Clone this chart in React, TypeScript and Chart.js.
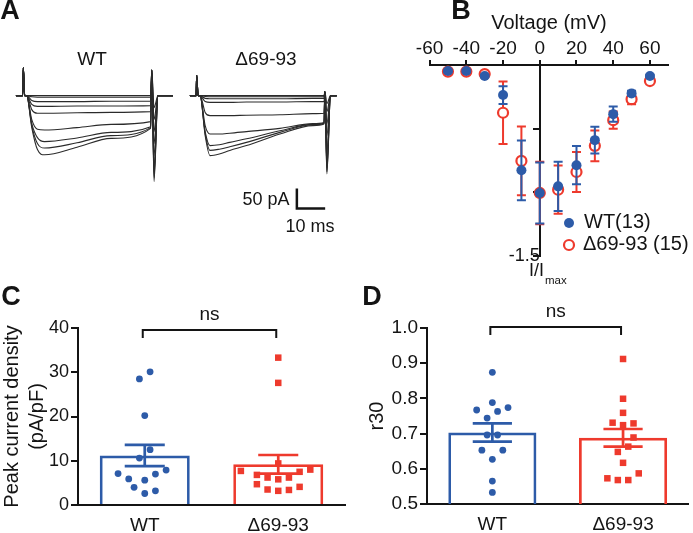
import React, { useEffect, useRef } from 'react';
import { Chart, registerables } from 'chart.js';

Chart.register(...registerables);

const FONT = "'Liberation Sans', Arial, Helvetica, sans-serif";
const INK = '#141414';
const TRACE_INK = '#2b2b2b';
const BLUE = '#2D5BA8';
const RED = '#EE3A2D';

Chart.defaults.font.family = FONT;
Chart.defaults.color = INK;

// ---------------- Panel A: current traces (time in ms from pulse onset, current in pA) ----------------
const A_WT_TIME = [-2.6, -0.2, 0, 0.5, 1.2, 3, 5, 7.5, 19, 31, 45, 45.4, 46.2, 47.6, 52.9];
const A_WT_TRACES = [
  [0, 0, 70, 0, 0, -80, -135, -148, -129, -107, -82, 64, -215, 0, 0],
  [0, 0, 70, 0, 0, -75, -120, -131, -118, -100, -80, 64, -205, 0, 0],
  [0, 0, 70, 0, 0, -70, -105, -115, -106, -92, -78, 64, -195, 0, 0],
  [0, 0, 70, 0, 0, -60, -84, -86, -80, -72, -65, 64, -180, 0, 0],
  [0, 0, 70, 0, 0, -35, -44, -44, -43, -42, -40, 64, -150, 0, 0],
  [0, 0, 70, 0, 0, -22, -27, -27, -26, -26, -25, 64, -120, 0, 0],
  [0, 0, 70, 0, 0, -12, -15, -15, -15, -14, -14, 64, -90, 0, 0],
  [0, 0, 70, 0, 0, -3, -4, -4, -4, -4, -4, 64, -60, 0, 0],
  [0, 0, 70, 0, 0, 0, 0, 0, 0, 0, 0, 64, -30, 0, 0],
];
const A_DEL_TIME = [-2.4, -0.2, 0, 0.5, 1.2, 3, 4.7, 8, 11.7, 17.6, 29.4, 41, 45, 45.3, 46.0, 47.3, 49.5];
const A_DEL_TRACES = [
  [0, 0, 51, 0, 0, -100, -150, -146, -137, -125, -96, -75, -71, 10, -196, 0, 0],
  [0, 0, 51, 0, 0, -95, -137, -134, -128, -117, -92, -73, -70, 10, -190, 0, 0],
  [0, 0, 51, 0, 0, -90, -125, -123, -117, -108, -88, -72, -69, 10, -180, 0, 0],
  [0, 0, 51, 0, 0, -75, -96, -96, -94, -90, -82, -70, -67, 10, -170, 0, 0],
  [0, 0, 51, 0, 0, -42, -50, -50, -50, -49, -48, -45, -44, 10, -140, 0, 0],
  [0, 0, 51, 0, 0, -15, -17, -17, -17, -16, -16, -15, -15, 10, -100, 0, 0],
  [0, 0, 51, 0, 0, -7, -8, -8, -8, -8, -8, -7, -7, 10, -70, 0, 0],
  [0, 0, 51, 0, 0, -2, -3, -3, -3, -3, -3, -3, -3, 10, -40, 0, 0],
  [0, 0, 51, 0, 0, 0, 0, 0, 0, 0, 0, 0, 0, 10, -20, 0, 0],
];
const SCALEBAR_MS = 10;
const SCALEBAR_PA = 50;

// ---------------- Panel B: I-V relation ----------------
const IV_VOLTAGE = [-50, -40, -30, -20, -10, 0, 10, 20, 30, 40, 50, 60];
const IV_WT = [-0.047, -0.047, -0.087, -0.236, -0.827, -1.005, -0.953, -0.787, -0.59, -0.386, -0.223, -0.087];
const IV_WT_SEM = [0.01, 0.01, 0.01, 0.07, 0.235, 0.24, 0.193, 0.15, 0.105, 0.06, 0.02, 0.01];
const IV_DEL = [-0.052, -0.052, -0.071, -0.375, -0.753, -1.005, -0.979, -0.84, -0.635, -0.433, -0.268, -0.126];
const IV_DEL_SEM = [0.01, 0.01, 0.01, 0.245, 0.27, 0.245, 0.19, 0.157, 0.12, 0.068, 0.04, 0.015];
const IV_Y_LABELLED = [-1.5];
const IV_LEGEND = ['WT(13)', 'Δ69-93 (15)'];

// ---------------- Panels C and D ----------------
const GROUPS = ['WT', 'Δ69-93'];

const C_WT = [30.1, 28.5, 20.2, 12.5, 10.6, 7.1, 7.9, 5.9, 5.6, 7.0, 4.0, 2.6, 3.2];
const C_WT_DX = [0.04, -0.04, 0, 0.04, -0.04, -0.2, 0.16, -0.12, 0, 0.08, -0.08, 0, 0.08];
const C_DEL = [33.3, 27.6, 9.4, 7.7, 8.0, 7.5, 6.8, 6.2, 5.8, 6.2, 4.7, 3.5, 3.2, 3.4, 4.1];
const C_DEL_DX = [0, 0, 0, -0.28, 0.24, 0.16, -0.16, -0.08, 0, 0.08, -0.16, -0.08, 0, 0.08, 0.16];
const C_MEAN = [11.2, 9.2];
const C_SEM = [2.4, 2.1];

const D_WT = [0.874, 0.788, 0.767, 0.763, 0.774, 0.744, 0.696, 0.696, 0.653, 0.653, 0.627, 0.565, 0.533];
const D_WT_DX = [0, 0, -0.12, 0.04, 0.12, -0.04, -0.04, 0.04, -0.08, 0.08, 0, 0, 0];
const D_DEL = [0.912, 0.799, 0.759, 0.731, 0.724, 0.729, 0.689, 0.648, 0.663, 0.617, 0.573, 0.568, 0.568, 0.587];
const D_DEL_DX = [0, 0, 0, -0.08, 0, 0.08, 0.08, -0.04, 0.04, 0, -0.12, -0.04, 0.04, 0.12];
const D_MEAN = [0.703, 0.688];
const D_SEM = [0.026, 0.025];

// ---------------- Panel A component ----------------
function PanelA() {
  const ref = useRef<HTMLCanvasElement>(null);
  useEffect(() => {
    const X_MAX = 350 / 2.83;
    const Y_MIN = -361;
    const Y_MAX = 239;
    const WT_ONSET = 8.23;
    const DEL_ONSET = 69.5;
    const SB_X = 104.9;
    const SB_Y = -282;
    const traceDs = (t: number[], v: number[], off: number) => ({
      data: t.map((tt, i) => ({ x: tt + off, y: v[i] })),
      borderColor: TRACE_INK,
      borderWidth: 1.1,
      pointRadius: 0,
      cubicInterpolationMode: 'monotone',
      borderJoinStyle: 'round',
    });
    const datasets: any[] = [];
    A_WT_TRACES.forEach((tr) => datasets.push(traceDs(A_WT_TIME, tr, WT_ONSET)));
    A_DEL_TRACES.forEach((tr) => datasets.push(traceDs(A_DEL_TIME, tr, DEL_ONSET)));
    datasets.push({
      data: [
        { x: SB_X, y: SB_Y + SCALEBAR_PA },
        { x: SB_X, y: SB_Y },
        { x: SB_X + SCALEBAR_MS, y: SB_Y },
      ],
      borderColor: INK,
      borderWidth: 2.5,
      pointRadius: 0,
      tension: 0,
      borderJoinStyle: 'miter',
    });
    const labels = {
      id: 'aLabels',
      afterDraw(chart: any) {
        const c = chart.ctx;
        c.save();
        c.fillStyle = INK;
        c.textBaseline = 'middle';
        c.textAlign = 'center';
        c.font = `bold 27px ${FONT}`;
        c.fillText('A', 10, 12);
        c.font = `19px ${FONT}`;
        c.fillText('WT', 92, 60);
        c.fillText('Δ69-93', 266, 60);
        c.font = `18px ${FONT}`;
        c.fillText('50 pA', 266, 200);
        c.fillText('10 ms', 310, 227);
        c.restore();
      },
    };
    const chart = new Chart(ref.current as HTMLCanvasElement, {
      type: 'scatter',
      data: { datasets },
      options: {
        responsive: false,
        animation: false,
        events: [],
        showLine: true,
        layout: { padding: 0 },
        plugins: { legend: { display: false }, tooltip: { enabled: false } },
        scales: {
          x: { type: 'linear', display: false, min: 0, max: X_MAX },
          y: { type: 'linear', display: false, min: Y_MIN, max: Y_MAX },
        },
      } as any,
      plugins: [labels],
    });
    return () => chart.destroy();
  }, []);
  return (
    <canvas ref={ref} width={350} height={240}
      style={{ position: 'absolute', left: 0, top: 0, width: 350, height: 240 }} />
  );
}

// ---------------- Panel B component ----------------
function PanelB() {
  const ref = useRef<HTMLCanvasElement>(null);
  useEffect(() => {
    const mk = (vals: number[]) => IV_VOLTAGE.map((v, i) => ({ x: v, y: vals[i] }));
    const errPlugin = {
      id: 'ivErr',
      beforeDatasetDraw(chart: any, args: any) {
        const ds = chart.data.datasets[args.index];
        if (!ds.errors) return;
        const c = chart.ctx;
        const xs = chart.scales.x;
        const ys = chart.scales.y;
        c.save();
        c.strokeStyle = ds.errColor;
        c.lineWidth = 2;
        c.beginPath();
        ds.data.forEach((p: any, i: number) => {
          const e = ds.errors[i];
          const x = xs.getPixelForValue(p.x);
          const y1 = ys.getPixelForValue(p.y + e);
          const y2 = ys.getPixelForValue(p.y - e);
          c.moveTo(x, y1);
          c.lineTo(x, y2);
          c.moveTo(x - 4.5, y1);
          c.lineTo(x + 4.5, y1);
          c.moveTo(x - 4.5, y2);
          c.lineTo(x + 4.5, y2);
        });
        c.stroke();
        c.restore();
      },
      afterDraw(chart: any) {
        const c = chart.ctx;
        c.save();
        c.fillStyle = INK;
        c.textBaseline = 'middle';
        c.textAlign = 'center';
        c.font = `bold 27px ${FONT}`;
        c.fillText('B', 61, 12);
        c.fillStyle = BLUE;
        c.beginPath();
        c.arc(169, 223, 5, 0, Math.PI * 2);
        c.fill();
        c.strokeStyle = RED;
        c.lineWidth = 2.2;
        c.beginPath();
        c.arc(169, 245, 5, 0, Math.PI * 2);
        c.stroke();
        c.fillStyle = INK;
        c.textAlign = 'left';
        c.font = `20px ${FONT}`;
        c.fillText(IV_LEGEND[0], 184, 222);
        c.fillText(IV_LEGEND[1], 183, 244);
        c.font = `18px ${FONT}`;
        c.fillText('I/I', 129, 271);
        const w = c.measureText('I/I').width;
        c.font = `11.5px ${FONT}`;
        c.fillText('max', 129 + w + 1, 281);
        c.restore();
      },
    };
    const chart = new Chart(ref.current as HTMLCanvasElement, {
      type: 'scatter',
      data: {
        datasets: [
          {
            label: IV_LEGEND[0],
            data: mk(IV_WT),
            errors: IV_WT_SEM,
            errColor: BLUE,
            pointRadius: 5,
            backgroundColor: BLUE,
            borderColor: BLUE,
            pointBorderWidth: 0,
            clip: false,
          },
          {
            label: IV_LEGEND[1],
            data: mk(IV_DEL),
            errors: IV_DEL_SEM,
            errColor: RED,
            pointRadius: 5,
            backgroundColor: '#ffffff',
            borderColor: RED,
            pointBorderWidth: 2.2,
            clip: false,
          },
        ] as any,
      },
      options: {
        responsive: false,
        animation: false,
        events: [],
        layout: { padding: { left: 29.6, right: 24.7, top: 0, bottom: 44 } },
        plugins: { legend: { display: false }, tooltip: { enabled: false } },
        scales: {
          x: {
            type: 'linear',
            position: 'top',
            min: -60,
            max: 70,
            afterFit: (s: any) => { s.height = 65; },
            ticks: { stepSize: 20, includeBounds: false, font: { size: 19 }, color: INK, padding: 0, maxRotation: 0 },
            grid: { drawOnChartArea: false, drawTicks: true, tickLength: 5, color: INK, lineWidth: 2 },
            border: { display: true, color: INK, width: 2 },
            title: { display: true, text: 'Voltage (mV)', font: { size: 20 }, color: INK, padding: { top: 11, bottom: 0 } },
          },
          y: {
            type: 'linear',
            position: { x: 0 },
            min: -1.5,
            max: 0,
            ticks: {
              stepSize: 0.5,
              font: { size: 18 },
              color: INK,
              padding: 4,
              callback: (v: any) => (IV_Y_LABELLED.includes(Number(v)) ? String(v) : ''),
            },
            grid: { drawOnChartArea: false, drawTicks: true, tickLength: 6, color: INK, lineWidth: 2 },
            border: { display: true, color: INK, width: 2 },
          },
        },
      } as any,
      plugins: [errPlugin],
    });
    return () => chart.destroy();
  }, []);
  return (
    <canvas ref={ref} width={293} height={300}
      style={{ position: 'absolute', left: 400, top: 0, width: 293, height: 300 }} />
  );
}

// ---------------- Panels C / D component ----------------
type BarPanelProps = {
  left: number; top: number; width: number; height: number;
  axisWidth: number; axisHeight: number; padTop: number; padRight: number;
  yMin: number; yMax: number; yStep: number; decimals: number;
  yTitle: string | string[]; yTitlePad: number; tickSize: number;
  means: number[]; sems: number[];
  wt: number[]; wtDx: number[]; del: number[]; delDx: number[];
  letter: string; letterX: number; letterY: number;
  bracketDy: number; nsDy: number;
};

function BarPanel(p: BarPanelProps) {
  const ref = useRef<HTMLCanvasElement>(null);
  useEffect(() => {
    const CAP = 0.15;
    const plugin = {
      id: 'barExtras',
      afterDatasetsDraw(chart: any) {
        const c = chart.ctx;
        const xs = chart.scales.xs;
        const ys = chart.scales.y;
        c.save();
        c.lineWidth = 2.7;
        [0, 1].forEach((i) => {
          const cx = xs.getPixelForValue(i);
          const hw = xs.getPixelForValue(i + CAP) - cx;
          const yT = ys.getPixelForValue(p.means[i] + p.sems[i]);
          const yB = ys.getPixelForValue(p.means[i] - p.sems[i]);
          c.strokeStyle = i === 0 ? BLUE : RED;
          c.beginPath();
          c.moveTo(cx, yT); c.lineTo(cx, yB);
          c.moveTo(cx - hw, yT); c.lineTo(cx + hw, yT);
          c.moveTo(cx - hw, yB); c.lineTo(cx + hw, yB);
          c.stroke();
        });
        c.restore();
      },
      afterDraw(chart: any) {
        const c = chart.ctx;
        const xs = chart.scales.xs;
        const top = chart.chartArea.top;
        const x0 = xs.getPixelForValue(0) - 2;
        const x1 = xs.getPixelForValue(1) - 2;
        const by = top + p.bracketDy;
        c.save();
        c.strokeStyle = INK;
        c.lineWidth = 2;
        c.beginPath();
        c.moveTo(x0, by + 8); c.lineTo(x0, by); c.lineTo(x1, by); c.lineTo(x1, by + 8);
        c.stroke();
        c.fillStyle = INK;
        c.textAlign = 'center';
        c.textBaseline = 'middle';
        c.font = `19px ${FONT}`;
        c.fillText('ns', (x0 + x1) / 2, top + p.nsDy);
        c.font = `bold 27px ${FONT}`;
        c.fillText(p.letter, p.letterX, p.letterY);
        c.restore();
      },
    };
    const chart = new Chart(ref.current as HTMLCanvasElement, {
      type: 'bar',
      data: {
        labels: GROUPS,
        datasets: [
          {
            type: 'bar',
            data: p.means,
            xAxisID: 'x',
            backgroundColor: 'rgba(255,255,255,0)',
            borderColor: [BLUE, RED],
            borderWidth: 2.7,
            borderSkipped: 'bottom',
            grouped: false,
            categoryPercentage: 1,
            barPercentage: 0.674,
            order: 2,
          },
          {
            type: 'scatter',
            xAxisID: 'xs',
            data: p.wt.map((v, i) => ({ x: p.wtDx[i], y: v })),
            pointStyle: 'circle',
            pointRadius: 3.4,
            backgroundColor: BLUE,
            borderColor: BLUE,
            pointBorderWidth: 0,
            order: 1,
            clip: false,
          },
          {
            type: 'scatter',
            xAxisID: 'xs',
            data: p.del.map((v, i) => ({ x: 1 + p.delDx[i], y: v })),
            pointStyle: 'rect',
            pointRadius: 4.6,
            backgroundColor: RED,
            borderColor: RED,
            pointBorderWidth: 0,
            order: 1,
            clip: false,
          },
        ] as any,
      },
      options: {
        responsive: false,
        animation: false,
        events: [],
        layout: { padding: { left: 0, right: p.padRight, top: p.padTop, bottom: 0 } },
        plugins: { legend: { display: false }, tooltip: { enabled: false } },
        scales: {
          x: {
            type: 'category',
            position: 'bottom',
            afterFit: (s: any) => { s.height = p.axisHeight; },
            ticks: { font: { size: 19 }, color: INK, padding: 9, maxRotation: 0 },
            grid: { display: false, drawTicks: false },
            border: { display: true, color: INK, width: 2 },
          },
          xs: { type: 'linear', display: false, offset: false, min: -0.5, max: 1.5 },
          y: {
            type: 'linear',
            position: 'left',
            min: p.yMin,
            max: p.yMax,
            afterFit: (s: any) => { s.width = p.axisWidth; },
            ticks: {
              stepSize: p.yStep,
              font: { size: p.tickSize },
              color: INK,
              padding: 2,
              callback: (v: any) => Number(v).toFixed(p.decimals),
            },
            grid: { drawOnChartArea: false, drawTicks: true, tickLength: 7, color: INK, lineWidth: 2 },
            border: { display: true, color: INK, width: 2 },
            title: {
              display: true,
              text: p.yTitle,
              font: { size: 20, lineHeight: 1.25 },
              color: INK,
              padding: { top: p.yTitlePad, bottom: 0 },
            },
          },
        },
      } as any,
      plugins: [plugin],
    });
    return () => chart.destroy();
  }, []);
  return (
    <canvas ref={ref} width={p.width} height={p.height}
      style={{ position: 'absolute', left: p.left, top: p.top, width: p.width, height: p.height }} />
  );
}

export default function App() {
  return (
    <div style={{ position: 'absolute', left: 0, top: 0, width: 693, height: 533, background: '#ffffff', overflow: 'hidden' }}>
      <PanelA />
      <PanelB />
      <BarPanel
        left={0} top={280} width={350} height={253}
        axisWidth={78} axisHeight={28} padTop={48} padRight={5}
        yMin={0} yMax={40} yStep={10} decimals={0}
        yTitle={['Peak current density', '(pA/pF)']} yTitlePad={0} tickSize={18}
        means={C_MEAN} sems={C_SEM}
        wt={C_WT} wtDx={C_WT_DX} del={C_DEL} delDx={C_DEL_DX}
        letter="C" letterX={11} letterY={18}
        bracketDy={2} nsDy={-13}
      />
      <BarPanel
        left={350} top={280} width={343} height={253}
        axisWidth={77} axisHeight={29} padTop={48} padRight={0}
        yMin={0.5} yMax={1.0} yStep={0.1} decimals={1}
        yTitle="r30" yTitlePad={15} tickSize={19}
        means={D_MEAN} sems={D_SEM}
        wt={D_WT} wtDx={D_WT_DX} del={D_DEL} delDx={D_DEL_DX}
        letter="D" letterX={22} letterY={18}
        bracketDy={-1} nsDy={-16}
      />
    </div>
  );
}
